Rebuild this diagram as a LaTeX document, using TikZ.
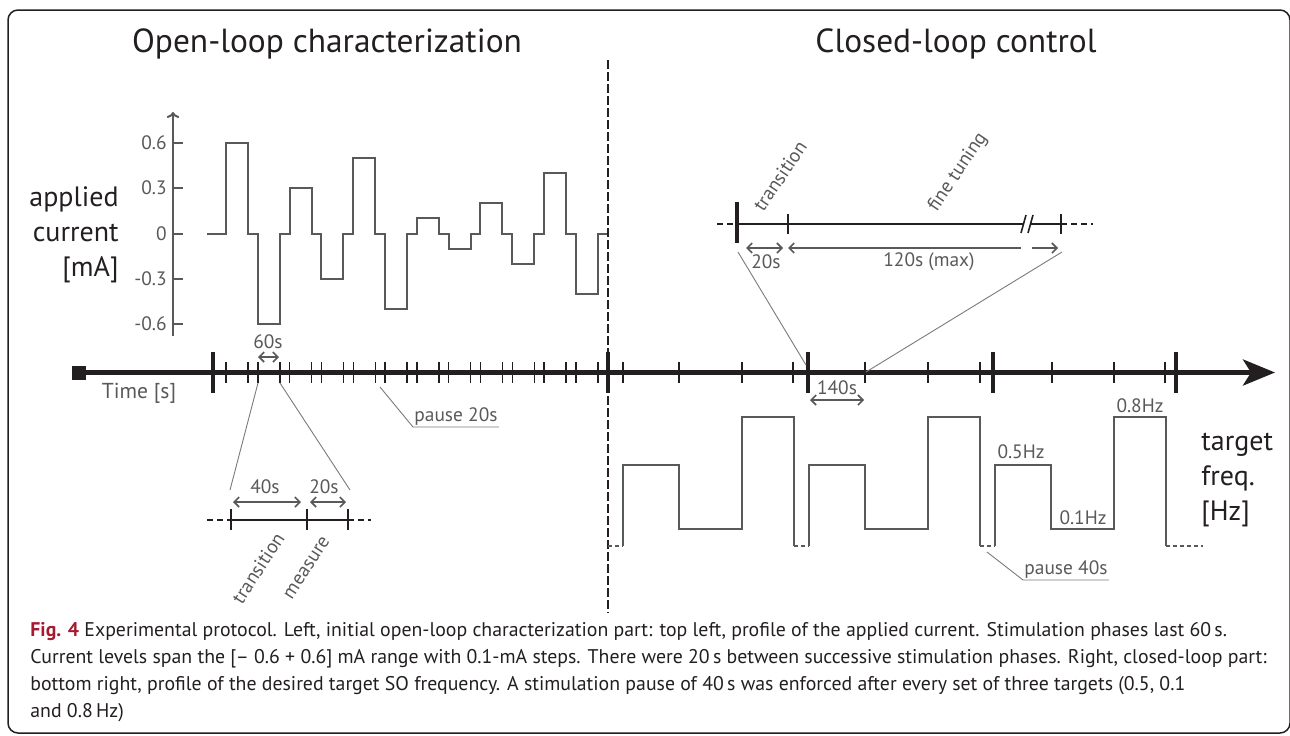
\documentclass[tikz,border=0pt]{standalone}
\usepackage{fontspec}
\setmainfont{PT Sans}
\newfontfamily\capfont{PT Sans}
\usetikzlibrary{arrows.meta}
\definecolor{inkblack}{HTML}{231F20}
\definecolor{inkgray}{HTML}{58595B}
\definecolor{leadgray}{HTML}{7A7A7A}
\definecolor{figred}{HTML}{A6192E}

\begin{document}
\begin{tikzpicture}[x=0.5pt, y=-0.5pt,
  every node/.style={inner sep=1pt},
  titletxt/.style={font=\fontsize{16.7}{20}\selectfont, text=inkblack, anchor=base},
  bigtxt/.style={font=\fontsize{14}{17.5}\selectfont, text=inkblack},
  smalltxt/.style={font=\fontsize{9.7}{11}\selectfont, text=inkgray},
  signal/.style={draw=inkgray, line width=1pt},
  pausepart/.style={signal, dash pattern=on 2pt off 1.5pt},
  timeaxis/.style={draw=inkblack, line width=2.3pt},
  bigtick/.style={draw=inkblack, line width=2pt},
  smalltick/.style={draw=inkblack, line width=0.7pt},
  zoomaxis/.style={draw=inkblack, line width=1pt},
  zoomdash/.style={zoomaxis, dash pattern=on 3pt off 2pt},
  leader/.style={draw=leadgray, line width=0.45pt},
  span/.style={{Straight Barb[length=2.5pt]}-{Straight Barb[length=2.5pt]}, draw=inkgray, line width=0.8pt},
]
  \useasboundingbox (0,0) rectangle (1290,735);
  \draw[inkblack, line width=0.75pt, rounded corners=5pt] (8,10) rectangle (1290,733);

  % Titles
  \node[titletxt] (olTitle) at (327,52) {Open-loop characterization};
  \node[titletxt] (clTitle) at (956,52) {Closed-loop control};
  \draw[inkblack, line width=1pt, dash pattern=on 4.5pt off 1.5pt] (608,60) -- (608,613);

  % Applied current axis
  \draw[signal, -{To[length=3pt]}] (173,336) -- (173,112);
  \foreach \v [count=\k] in {0.6,0.3,0,-0.3,-0.6} {
    \draw[signal] (173,{233.5-151*\v}) -- (183,{233.5-151*\v});
    \node[smalltxt, anchor=east] (ylab\k) at (169,{233.5-151*\v}) {\v};
  }
  \node[bigtxt, anchor=east, align=right] (curLabel) at (121,235) {applied\\current\\{[mA]}};

  % Current profile
  \draw[signal] (207,233.5)
    \foreach \lev [count=\i from 0] in {0.6,-0.6,0.3,-0.3,0.5,-0.5,0.1,-0.1,0.2,-0.2,0.4,-0.4}
    { -- ({226+31.8*\i},233.5) -- ({226+31.8*\i},{233.5-151*\lev})
      -- ({248+31.8*\i},{233.5-151*\lev}) -- ({248+31.8*\i},233.5) }
    -- (607,233.5);

  % Time axis
  \node[fill=inkblack, minimum size=7pt, inner sep=0] (tStart) at (79,372.5) {};
  \coordinate (tEnd) at (1275,372.5);
  \draw[timeaxis, -{Stealth[length=16pt, width=13pt, inset=4pt]}] (tStart) -- (tEnd);
  \node[font=\fontsize{10.8}{13}\selectfont, text=inkgray] (tLabel) at (139,393) {Time [s]};
  \foreach \x in {213,608,808,993,1176}
    \draw[bigtick] (\x,352) -- (\x,393);
  \foreach \i in {0,...,11} {
    \draw[smalltick] ({226+31.8*\i},362) -- ({226+31.8*\i},383);
    \draw[smalltick] ({248+31.8*\i},362) -- ({248+31.8*\i},383);
  }
  \foreach \x in {623,679,742,793,865,928,980,1052,1114,1165}
    \draw[smalltick] (\x,362) -- (\x,383);

  \node[smalltxt] (sixty) at (268,342) {60s};
  \draw[span] (258,357) -- (279,357);
  \node[smalltxt] (oneForty) at (837,388) {140s};
  \draw[span] (810,400) -- (864,400);

  % Zoom on one stimulation phase
  \coordinate (phaseA) at (258,383);
  \coordinate (phaseB) at (280,383);
  \coordinate (insetA) at (230,490);
  \coordinate (insetB) at (350,490);
  \draw[leader] (phaseA) -- (insetA);
  \draw[leader] (phaseB) -- (insetB);
  \draw[zoomdash] (207,519.5) -- (231,519.5);
  \draw[zoomaxis] (231,519.5) -- (348,519.5);
  \draw[zoomdash] (348,519.5) -- (371,519.5);
  \foreach \x in {231,307,348}
    \draw[smalltick] (\x,509) -- (\x,530);
  \draw[span] (233,502) -- (301,502);
  \draw[span] (310,502) -- (346,502);
  \node[smalltxt] (forty) at (265,487) {40s};
  \node[smalltxt] (twentyL) at (324,487) {20s};
  \node[smalltxt, rotate=57] (transL) at (258,568) {transition};
  \node[smalltxt, rotate=57] (measL) at (307,568) {measure};

  \coordinate (gap20) at (380,387);
  \node[smalltxt, anchor=south west, inner sep=0.5pt] (pause20) at (413,427) {pause 20s};
  \draw[leader] (gap20) -- (pause20.south west) -- (pause20.south east);

  % Zoom on one target
  \draw[zoomdash] (717,224) -- (737,224);
  \draw[zoomaxis] (737,224) -- (1024,224);
  \draw[zoomaxis] (1031,224) -- (1061,224);
  \draw[zoomdash] (1061,224) -- (1093,224);
  \draw[bigtick] (737,202) -- (737,243);
  \foreach \x in {788,1061}
    \draw[smalltick] (\x,214) -- (\x,234);
  \draw[zoomaxis, line width=0.8pt] (1021,233) -- (1026,215);
  \draw[zoomaxis, line width=0.8pt] (1028,233) -- (1033,215);
  \draw[span] (746,248) -- (783,248);
  \draw[span, {Straight Barb[length=2.5pt]}-] (788,248) -- (1021,248);
  \draw[span, -{Straight Barb[length=2.5pt]}] (1032,248) -- (1058,248);
  \node[smalltxt] (twentyR) at (766,262) {20s};
  \node[smalltxt] (maxR) at (929,262) {120s (max)};
  \node[smalltxt, rotate=56] (transR) at (780,176) {transition};
  \node[smalltxt, rotate=56] (fineR) at (958,172) {fine tuning};
  \coordinate (insetC) at (738,252);
  \coordinate (targetA) at (806,365);
  \coordinate (insetD) at (1062,252);
  \coordinate (targetB) at (866,372);
  \draw[leader] (insetC) -- (targetA);
  \draw[leader] (targetB) -- (insetD);

  % Target frequency profile
  \foreach \g in {623,809,995} {
    \draw[pausepart] ({\g-15},546) -- (\g,546);
    \draw[signal] (\g,546) -- (\g,465) -- ({\g+56},465) -- ({\g+56},529)
      -- ({\g+119},529) -- ({\g+119},417) -- ({\g+171},417) -- ({\g+171},546);
  }
  \draw[pausepart] (1166,546) -- (1203,546);
  \node[smalltxt] (hzHalf) at (1021,452) {0.5Hz};
  \node[smalltxt] (hzLow) at (1083,518) {0.1Hz};
  \node[smalltxt] (hzHigh) at (1140,406) {0.8Hz};
  \node[bigtxt, anchor=west, align=left] (freqLabel) at (1199,480) {target\\freq.\\{[Hz]}};

  \coordinate (gap40) at (987,552);
  \node[smalltxt, anchor=south west, inner sep=0.5pt] (pause40) at (1023,580) {pause 40s};
  \draw[leader] (gap40) -- (pause40.south west) -- (pause40.south east);

  % Caption
  \node[anchor=base west, align=left, inner sep=0, text=inkblack,
        font=\capfont\fontsize{9.9}{13.5}\selectfont] (caption) at (30,717)
    {{\bfseries\color{figred}Fig. 4} Experimental protocol. Left, initial open-loop characterization part: top left, profile of the applied current. Stimulation phases last 60\,s.\\
     Current levels span the [– 0.6 + 0.6] mA range with 0.1-mA steps. There were 20\,s between successive stimulation phases. Right, closed-loop part:\\
     bottom right, profile of the desired target SO frequency. A stimulation pause of 40\,s was enforced after every set of three targets (0.5, 0.1\\
     and 0.8\,Hz)};
\end{tikzpicture}
\end{document}
